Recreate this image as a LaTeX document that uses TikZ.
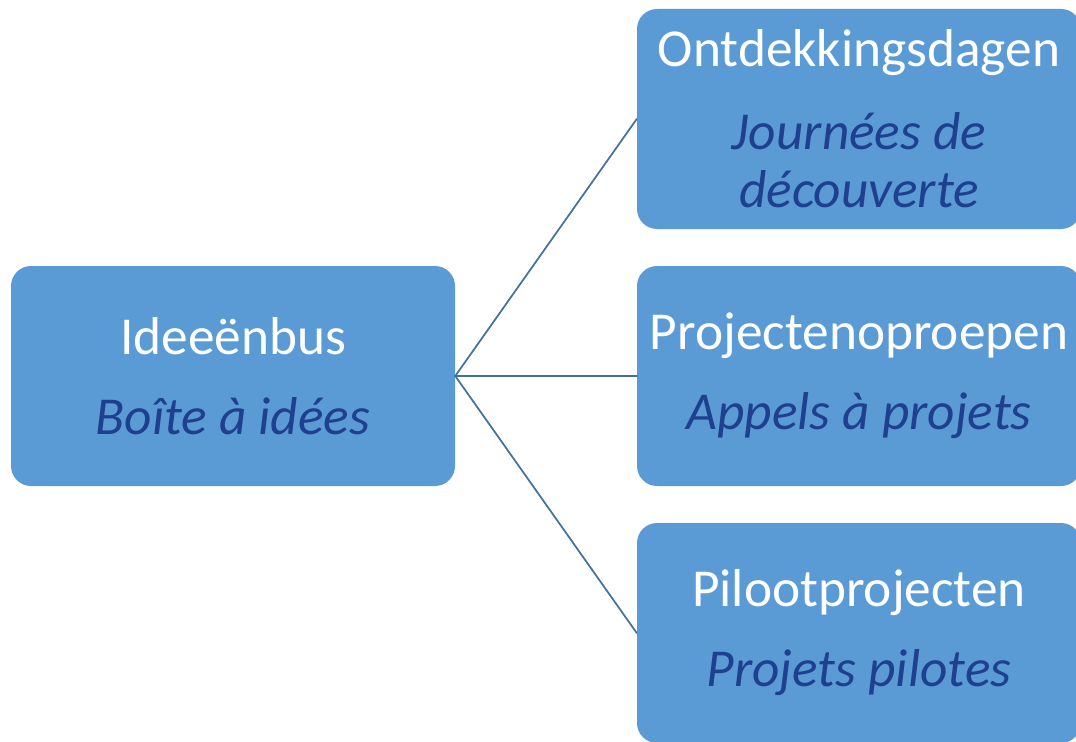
\documentclass[tikz,border=0pt]{standalone}
\usepackage{fontspec}
\setmainfont{Carlito}
\definecolor{boxblue}{HTML}{5B9BD5}
\definecolor{linkblue}{HTML}{41719C}
\definecolor{frblue}{HTML}{1F3F8F}
\begin{document}
\begin{tikzpicture}[x=0.75pt,y=-0.75pt,line join=round,line cap=round,
	idea/.style={fill=boxblue,rounded corners=15pt,minimum width=333pt,minimum height=165pt,inner sep=0pt,align=center,text=white,font=\fontsize{40}{44}\selectfont},
	link/.style={draw=linkblue,line width=1.3pt}]
	\useasboundingbox (0,0) rectangle (1076,742);
	\clip (0,0) rectangle (1076,742);
	% left box
	\node[idea] (bus) at (233,376) {Ideeënbus\\[16pt]\textcolor{frblue}{\itshape Boîte à idées}};
	% right boxes
	\node[idea] (dagen) at (859,119) {Ontdekkingsdagen\\[18pt]\textcolor{frblue}{\itshape Journées de}\\\textcolor{frblue}{\itshape découverte}};
	\node[idea] (oproep) at (859,376) {Projectenoproepen\\[16pt]\textcolor{frblue}{\itshape Appels à projets}};
	\node[idea] (pilot) at (859,633) {Pilootprojecten\\[16pt]\textcolor{frblue}{\itshape Projets pilotes}};
	\draw[link] (bus.east)--(dagen.west);
	\draw[link] (bus.east)--(oproep.west);
	\draw[link] (bus.east)--(pilot.west);
\end{tikzpicture}
\end{document}
